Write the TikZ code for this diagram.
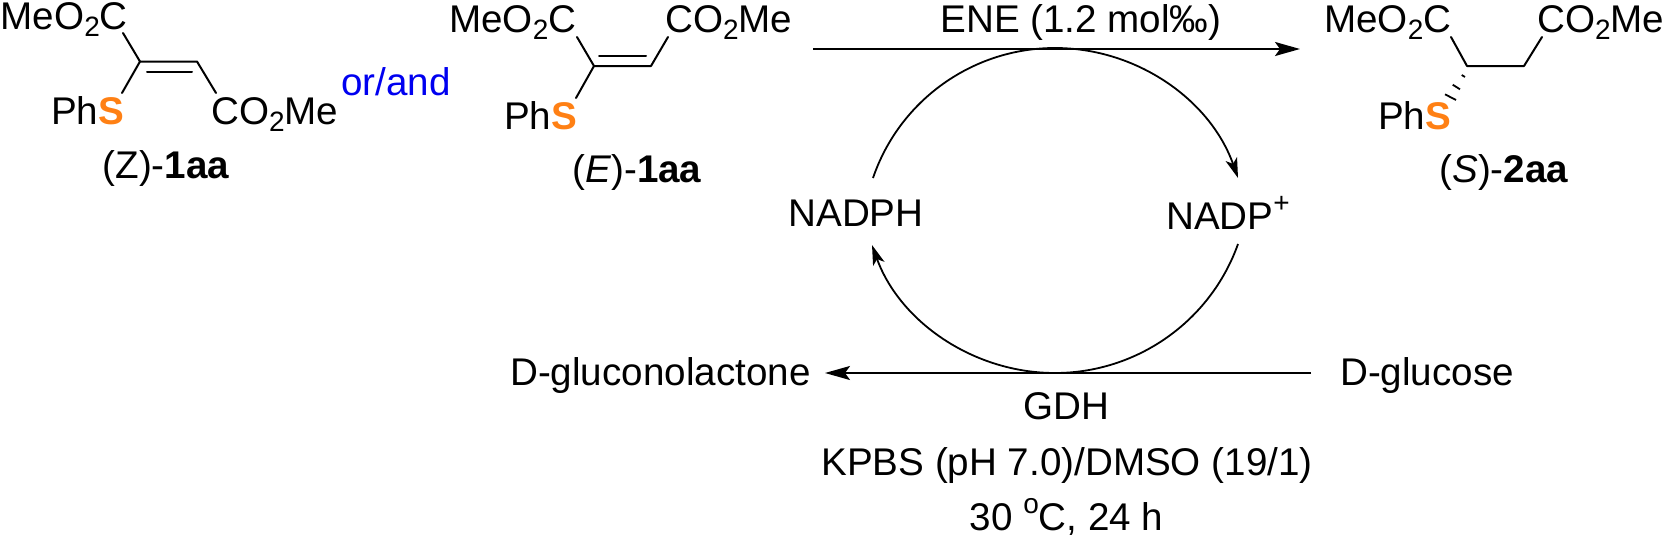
\documentclass[tikz,border=0pt]{standalone}
\usepackage{fontspec}
\setmainfont{Liberation Sans}
\usetikzlibrary{arrows.meta}
\definecolor{sorange}{RGB}{255,128,20}
\definecolor{orblue}{RGB}{0,0,240}
\newcommand{\sulf}{\textcolor{sorange}{\textbf{S}}}
\newcommand{\two}{\raisebox{-0.2em}{\fontsize{28}{28}\selectfont 2}}
\newcommand{\upper}[1]{\raisebox{0.42em}{\fontsize{28}{28}\selectfont #1}}
\tikzset{x=1pt,y=-1pt,
 lbl/.style={inner sep=0pt,font=\fontsize{38.6}{42}\selectfont},
 bond/.style={line width=2pt,line cap=round,line join=round},
 arr/.style={line width=2pt,-{Stealth[length=25pt,width=14pt,inset=5pt]}},
 arcarr/.style={line width=1.8pt,-{Stealth[length=20pt,width=12pt,inset=5pt]}}}
\begin{document}
\begin{tikzpicture}
\useasboundingbox (0,0) rectangle (1666,536);
% Z isomer
\node[lbl,anchor=base west] (zme) at (0.5,29) {MeO\two C};
\node[lbl,anchor=base west] (zph) at (51,124) {Ph\sulf};
\node[lbl,anchor=base west] (zco) at (211,124) {CO\two Me};
\node[lbl,anchor=base] (zn) at (166,178) {(Z)-\textbf{1aa}};
\node[lbl,anchor=base west,text=orblue] (orand) at (341,95) {or/and};
\coordinate (z1) at (140,61.5);\coordinate (z2) at (197,61.5);
\coordinate (z3) at (123,33);\coordinate (z4) at (122,93);\coordinate (z5) at (216,93);
\coordinate (z6) at (147,72);\coordinate (z7) at (192,72);
\draw[bond] (z3)--(z1)--(z2)--(z5);\draw[bond] (z1)--(z4);\draw[bond] (z6)--(z7);
% E isomer
\node[lbl,anchor=base west] (eme) at (449,32) {MeO\two C};
\node[lbl,anchor=base west] (eco) at (665,32) {CO\two Me};
\node[lbl,anchor=base west] (eph) at (504,129) {Ph\sulf};
\node[lbl,anchor=base] (en) at (637,182) {(\textit{E})-\textbf{1aa}};
\coordinate (e1) at (594,66);\coordinate (e2) at (651,66);
\coordinate (e3) at (577,37);\coordinate (e4) at (576,98);\coordinate (e5) at (668,37);
\coordinate (e6) at (599,56);\coordinate (e7) at (646,56);
\draw[bond] (e3)--(e1)--(e2)--(e5);\draw[bond] (e1)--(e4);\draw[bond] (e6)--(e7);
% S product
\node[lbl,anchor=base west] (sme) at (1324,32) {MeO\two C};
\node[lbl,anchor=base west] (sco) at (1537,32) {CO\two Me};
\node[lbl,anchor=base west] (sph) at (1378,129) {Ph\sulf};
\node[lbl,anchor=base] (sn) at (1504,182) {(\textit{S})-\textbf{2aa}};
\coordinate (s1) at (1467,66);\coordinate (s2) at (1524,66);
\coordinate (s3) at (1451,37);\coordinate (s5) at (1542,37);
\draw[bond] (s3)--(s1)--(s2)--(s5);
\draw[line width=1.8pt] (1461.7,75)--(1465,77) (1452.7,84.7)--(1460,89.3) (1445,94.3)--(1456,100);
% labels of the cycle
\node[lbl,anchor=base] (ene) at (1081,32) {ENE (1.2 mol‰)};
\node[lbl,anchor=base] (nadph) at (856,226) {NADPH};
\node[lbl,anchor=base west] (nadp) at (1166,229) {NADP\upper{+}};
\node[lbl,anchor=base west] (glc) at (1340,385) {D-glucose};
\node[lbl,anchor=base west] (glo) at (510,385) {D-gluconolactone};
\node[lbl,anchor=base] (gdh) at (1066,419) {GDH};
\node[lbl,anchor=base] (kp) at (1067,475) {KPBS (pH 7.0)/DMSO (19/1)};
\node[lbl,anchor=base] (t) at (1066.5,530) {30 \upper{o}C, 24 h};
% arrows
\coordinate (b1) at (813,49);\coordinate (b2) at (1300,49);
\coordinate (c1) at (1311,373);\coordinate (c2) at (825,373);
\draw[arr] (b1)--(b2);
\draw[arr] (c1)--(c2);
\coordinate (o1) at (873,178);\coordinate (o2) at (1238,178);
\coordinate (o3) at (1238,244);\coordinate (o4) at (872,245);
\draw[arcarr] (o1) .. controls (899.5,100.2) and (972.8,48) .. (1055,48) .. controls (1137.2,48) and (1210.5,100.2) .. (o2);
\draw[arcarr] (o3) .. controls (1210.5,321.3) and (1137,373) .. (1055,373) .. controls (973,373) and (899.5,321.3) .. (o4);
\end{tikzpicture}
\end{document}
